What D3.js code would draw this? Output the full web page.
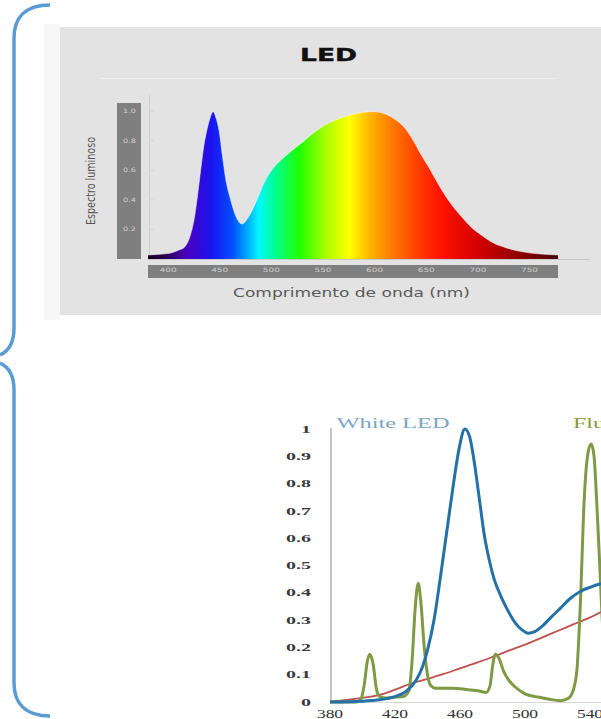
<!DOCTYPE html>
<html><head><meta charset="utf-8">
<script src="https://d3js.org/d3.v7.min.js"></script>
<style>body{margin:0;background:#fff;}svg{display:block;}</style>
</head><body>
<script>
// ---------- DATA ----------
// Top chart: LED relative spectrum [wavelength nm, value]
const ledSpectrum = [[383,0.027],[395,0.032],[405,0.04],[413,0.06],[419,0.085],[424,0.16],[428,0.28],[431,0.43],[434,0.60],[437,0.76],[440,0.87],[443,0.95],[446,0.995],[449,0.95],[452,0.86],[455,0.70],[458,0.55],[463,0.40],[468,0.29],[474,0.236],[480,0.28],[486,0.36],[492,0.46],[498,0.55],[505,0.62],[512,0.67],[520,0.72],[531,0.78],[543,0.85],[557,0.915],[570,0.955],[580,0.975],[590,0.99],[600,0.995],[608,0.99],[615,0.973],[623,0.94],[631,0.89],[639,0.81],[647,0.71],[654,0.63],[660,0.556],[668,0.46],[676,0.376],[686,0.29],[696,0.215],[707,0.155],[718,0.106],[730,0.075],[744,0.05],[760,0.035],[780,0.027]];
const topXTicks = [400,450,500,550,600,650,700,750];
const topYTicks = [0.2,0.4,0.6,0.8,1.0];
const topTitle = "LED";
const topXLabel = "Comprimento de onda (nm)";
const topYLabel = "Espectro luminoso";

// Bottom chart series [wavelength nm, value]
const whiteLED = [[380,0],[400,0.003],[410,0.008],[420,0.02],[427,0.04],[433,0.08],[437,0.13],[440,0.19],[444,0.3],[448,0.46],[452,0.63],[456,0.8],[459.5,0.93],[463,1.0],[466,0.97],[469,0.87],[472,0.74],[475,0.61],[478,0.52],[481,0.45],[485,0.39],[489,0.34],[494,0.29],[498,0.265],[502,0.252],[506,0.258],[511,0.28],[516,0.31],[522,0.345],[528,0.38],[534,0.405],[540,0.42],[546,0.432],[555,0.44],[560,0.445]];
const fluorescent = [[380,0],[396,0],[399,0.01],[401,0.06],[403,0.15],[404.6,0.175],[406.5,0.14],[408.5,0.05],[410.5,0.02],[415,0.015],[420,0.018],[425,0.02],[428.5,0.04],[430.5,0.15],[432.5,0.35],[434.3,0.435],[436,0.36],[438,0.2],[440,0.1],[442,0.06],[445,0.05],[455,0.05],[465,0.045],[472,0.04],[476,0.035],[478.5,0.06],[480,0.13],[481.8,0.175],[484,0.16],[487,0.11],[490,0.08],[494,0.055],[500,0.03],[508,0.018],[515,0.01],[522,0.005],[527,0.015],[530,0.05],[532,0.12],[534,0.35],[536.5,0.75],[539,0.92],[540.8,0.945],[542.5,0.9],[544,0.75],[546,0.5],[548,0.25],[551,0.08],[560,0.04]];
const incandescent = [[380,0],[390,0.008],[400,0.015],[410,0.025],[420,0.045],[430,0.068],[440,0.085],[450,0.103],[460,0.123],[470,0.143],[480,0.165],[490,0.188],[500,0.21],[510,0.235],[520,0.26],[530,0.285],[540,0.31],[550,0.34],[560,0.37]];
const bottomXTicks = [380,420,460,500,540];
const bottomYTicks = [0,0.1,0.2,0.3,0.4,0.5,0.6,0.7,0.8,0.9,1];
const bottomYLabels = ["0","0.1","0.2","0.3","0.4","0.5","0.6","0.7","0.8","0.9","1"];
const seriesNames = ["White LED","Fluorescent"];

// ---------- DRAW ----------
const W = 601, H = 719;
const svg = d3.select("body").append("svg").attr("width", W).attr("height", H);
const defs = svg.append("defs");

// Braces
const brace = svg.append("g").attr("fill","none").attr("stroke","#5b9bd5").attr("stroke-width",3.5).attr("stroke-linecap","butt");
brace.append("path").attr("d","M50,5 C25,5 14,18 14,38 L14,328 C14,343 9,351 0,355");
brace.append("path").attr("d","M0,363 C9,367 14,375 14,390 L14,683 C14,703 25,716 50,716");

// ----- Top chart -----
svg.append("rect").attr("x",44).attr("y",24).attr("width",16).attr("height",296).attr("fill","#f7f7f7");
svg.append("rect").attr("x",60).attr("y",27).attr("width",541).attr("height",288).attr("fill","#e3e3e3");
svg.append("text").attr("x",300).attr("y",61).attr("textLength",57).attr("lengthAdjust","spacingAndGlyphs")
  .attr("font-family","DejaVu Sans, sans-serif").attr("font-weight","bold").attr("font-size",17.5).attr("fill","#111").attr("stroke","#111").attr("stroke-width",0.4).text(topTitle);
svg.append("line").attr("x1",100).attr("x2",556).attr("y1",78.5).attr("y2",78.5).attr("stroke","#efefef").attr("stroke-width",1);

const xT = d3.scaleLinear().domain([383,780]).range([148,558]);
const yT = d3.scaleLinear().domain([0,1]).range([259,111]);

// y gray bar
svg.append("rect").attr("x",117).attr("y",103).attr("width",24).attr("height",156).attr("fill","#7f7f7f");
svg.append("g").selectAll("text").data(topYTicks).join("text")
  .attr("x",123).attr("y",d=>yT(d)+2).attr("textLength",13).attr("lengthAdjust","spacingAndGlyphs")
  .attr("font-family","DejaVu Sans, sans-serif").attr("font-size",6).attr("fill","#cfcfcf").text(d3.format(".1f"));
// thin axis line + small ticks
svg.append("line").attr("x1",149.5).attr("x2",149.5).attr("y1",95).attr("y2",259).attr("stroke","#cdcdcd").attr("stroke-width",1);
svg.append("g").selectAll("line").data(topYTicks).join("line")
  .attr("x1",149).attr("x2",154).attr("y1",d=>yT(d)).attr("y2",d=>yT(d)).attr("stroke","#d4d4d4");
svg.append("line").attr("x1",148).attr("x2",590).attr("y1",259.5).attr("y2",259.5).attr("stroke","#c8c8c8").attr("stroke-width",1);

// spectrum gradient
const stops = [[383,"#14001c"],[400,"#2a0050"],[420,"#4a00c0"],[445,"#1a14f0"],[465,"#0050ff"],[480,"#00b0ff"],[490,"#00f8ff"],[505,"#00ff98"],[530,"#20ff00"],[555,"#a8ff00"],[578,"#ffff00"],[598,"#ffb400"],[615,"#ff8400"],[640,"#ff4800"],[665,"#ff1400"],[700,"#d80000"],[740,"#920000"],[780,"#4a0010"]];
const grad = defs.append("linearGradient").attr("id","spec").attr("gradientUnits","userSpaceOnUse")
  .attr("x1",xT(383)).attr("x2",xT(780)).attr("y1",0).attr("y2",0);
grad.selectAll("stop").data(stops).join("stop")
  .attr("offset",d=>(d[0]-383)/(780-383)).attr("stop-color",d=>d[1]);
const area = d3.area().x(d=>xT(d[0])).y0(yT(0)).y1(d=>yT(d[1])).curve(d3.curveMonotoneX);
svg.append("path").datum(ledSpectrum).attr("d",area).attr("fill","url(#spec)");
svg.append("path").datum(ledSpectrum).attr("d",d3.line().x(d=>xT(d[0])).y(d=>yT(d[1])).curve(d3.curveMonotoneX))
  .attr("fill","none").attr("stroke","rgba(255,255,255,0.45)").attr("stroke-width",1);

// x gray bar
svg.append("rect").attr("x",148).attr("y",265).attr("width",410).attr("height",13).attr("fill","#7f7f7f");
const xAxisTop = d3.axisBottom(xT).tickValues(topXTicks).tickSize(0).tickPadding(0);
const gxT = svg.append("g").attr("transform","translate(2,268)").call(xAxisTop);
gxT.select(".domain").remove();
gxT.selectAll("text").attr("font-family","DejaVu Sans, sans-serif").attr("font-size",6).attr("fill","#cfcfcf")
  .attr("textLength",17).attr("lengthAdjust","spacingAndGlyphs").attr("dy","0.6em");
svg.append("text").attr("x",233).attr("y",297).attr("textLength",237).attr("lengthAdjust","spacingAndGlyphs")
  .attr("font-family","DejaVu Sans, sans-serif").attr("font-size",12.5).attr("fill","#5a5a5a").text(topXLabel);
svg.append("text").attr("transform","translate(95,225) rotate(-90)").attr("textLength",88).attr("lengthAdjust","spacingAndGlyphs")
  .attr("font-family","DejaVu Sans, sans-serif").attr("font-size",13).attr("fill","#555").text(topYLabel);

// ----- Bottom chart -----
const xB = d3.scaleLinear().domain([380,560]).range([330,622.5]);
const yB = d3.scaleLinear().domain([0,1]).range([702,429]);

svg.append("line").attr("x1",330).attr("x2",601).attr("y1",702.5).attr("y2",702.5).attr("stroke","#d6d6d6").attr("stroke-width",1);
svg.append("line").attr("x1",331).attr("x2",331).attr("y1",428).attr("y2",702).attr("stroke","#c4c4c4").attr("stroke-width",2);

const yl = svg.append("g").selectAll("g").data(bottomYTicks).join("g")
  .attr("transform",d=>`translate(311,${yB(d)+3.6}) scale(1.9,1)`);
yl.append("text").attr("text-anchor","end").attr("font-family","Liberation Serif, serif").attr("font-weight","bold")
  .attr("font-size",10.5).attr("fill","#3a3a3a").text((d,i)=>bottomYLabels[i]);

const xl = svg.append("g").selectAll("g").data(bottomXTicks).join("g")
  .attr("transform",d=>`translate(${xB(d)},718) scale(1.4,1)`);
xl.append("text").attr("text-anchor","middle").attr("font-family","Liberation Serif, serif")
  .attr("font-size",12.5).attr("fill","#333").text(d=>d);

const lineB = d3.line().x(d=>xB(d[0])).y(d=>yB(d[1])).curve(d3.curveMonotoneX);
svg.append("path").datum(incandescent).attr("d",lineB).attr("fill","none").attr("stroke","#c0504d").attr("stroke-width",1.8);
svg.append("path").datum(fluorescent).attr("d",lineB).attr("fill","none").attr("stroke","#7f9a45").attr("stroke-width",3).attr("stroke-linejoin","round");
svg.append("path").datum(whiteLED).attr("d",lineB).attr("fill","none").attr("stroke","#2471a8").attr("stroke-width",3).attr("stroke-linejoin","round");

svg.append("text").attr("x",336.5).attr("y",428).attr("textLength",113).attr("lengthAdjust","spacingAndGlyphs")
  .attr("font-family","Liberation Serif, serif").attr("font-size",15.5).attr("fill","#7ba4cb").text(seriesNames[0]);
svg.append("g").attr("transform","translate(573,428) scale(1.55,1)").append("text")
  .attr("font-family","Liberation Serif, serif").attr("font-size",15.5).attr("fill","#8c9a3c").text(seriesNames[1]);
</script>
</body></html>
